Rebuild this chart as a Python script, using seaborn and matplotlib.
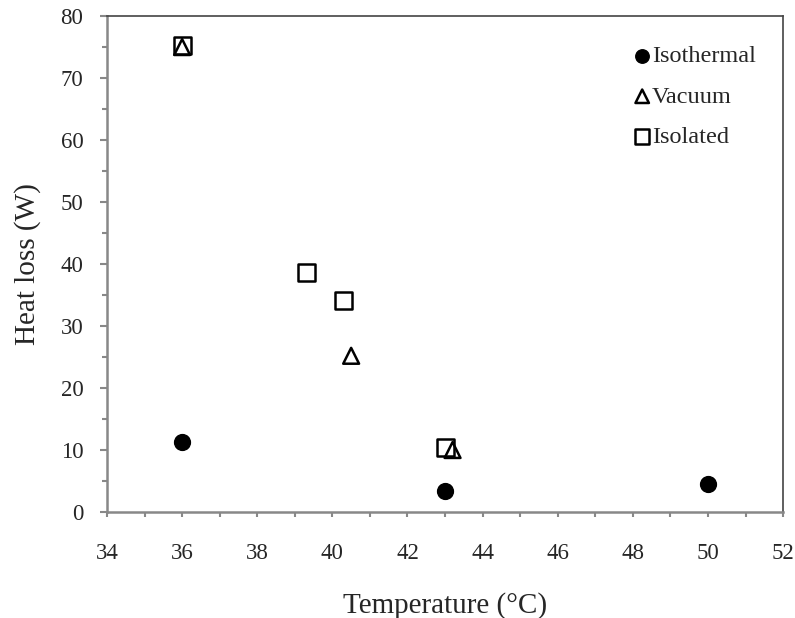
import matplotlib
matplotlib.use("Agg")
import matplotlib.pyplot as plt
import seaborn as sns
import pandas as pd
from matplotlib.ticker import MultipleLocator

iso_T = [36, 43, 50]
iso_Q = [11.3, 3.4, 4.5]
vac_T = [36, 40.5, 43.2]
vac_Q = [75.0, 25.2, 10.0]
isol_T = [36, 39.3, 40.3, 43.0]
isol_Q = [75.2, 38.6, 34.1, 10.4]

sns.set_style("white")
plt.rcParams['font.family'] = ['Liberation Serif', 'DejaVu Serif']

fig = plt.figure(figsize=(7.95, 6.18), dpi=100)
ax = fig.add_axes([0.1346, 0.1715, 0.985 - 0.1346, 0.974 - 0.1715])

sns.scatterplot(x=iso_T, y=iso_Q, ax=ax, marker='o', s=130, color='black',
                edgecolor='black', linewidth=1, label='Isothermal', zorder=3)
sns.scatterplot(x=isol_T, y=isol_Q, ax=ax, marker='s', s=150, facecolor='none',
                edgecolor='black', linewidth=1.8, label='Isolated', zorder=3)
sns.scatterplot(x=vac_T, y=vac_Q, ax=ax, marker='^', s=130, facecolor='none',
                edgecolor='black', linewidth=1.8, label='Vacuum', zorder=4)

ax.set_xlim(34, 52)
ax.set_ylim(0, 80)
ax.xaxis.set_major_locator(MultipleLocator(2))
ax.xaxis.set_minor_locator(MultipleLocator(1))
ax.yaxis.set_major_locator(MultipleLocator(10))
ax.yaxis.set_minor_locator(MultipleLocator(5))
ax.tick_params(axis='both', which='both', color='#888888', width=1.5, direction='out')
ax.tick_params(axis='y', which='major', length=5, pad=12, labelsize=16.5)
ax.tick_params(axis='y', which='minor', length=3.5)
ax.tick_params(axis='x', which='major', length=3.5, pad=19, labelsize=16.5)
ax.tick_params(axis='x', which='minor', length=3.5)
ax.tick_params(axis='x', which='both', bottom=True)
ax.tick_params(axis='y', which='both', left=True)

for side in ['left', 'bottom']:
    ax.spines[side].set_color('#888888')
    ax.spines[side].set_linewidth(1.8)
for side in ['top', 'right']:
    ax.spines[side].set_color('#444444')
    ax.spines[side].set_linewidth(1.2)

ax.set_xlabel('Temperature (°C)', fontsize=21, labelpad=20)
ax.set_ylabel('Heat loss (W)', fontsize=21, labelpad=14)

handles, labels = ax.get_legend_handles_labels()
order = [labels.index(l) for l in ['Isothermal', 'Vacuum', 'Isolated']]
leg = ax.legend([handles[i] for i in order], [labels[i] for i in order],
                loc='upper right', bbox_to_anchor=(0.992, 0.985), frameon=False,
                fontsize=17.5, handletextpad=-0.1, labelspacing=0.75,
                handlelength=1.0, markerscale=0.85)

fig.savefig('out.png', dpi=100)
